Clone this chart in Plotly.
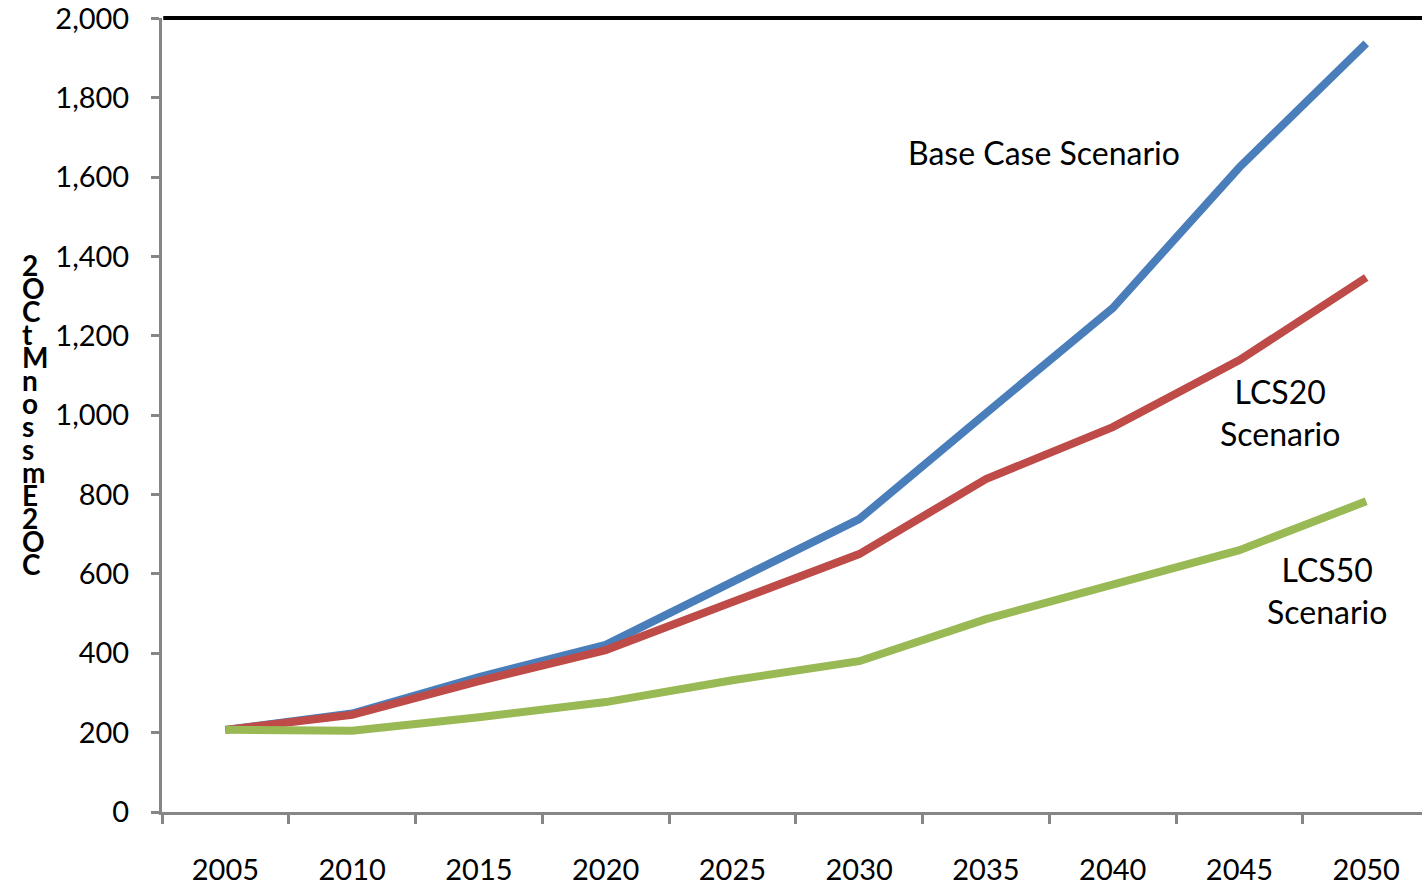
import plotly.graph_objects as go

years = ["2005", "2010", "2015", "2020", "2025", "2030", "2035", "2040", "2045", "2050"]
base_case = [207, 248, 340, 421, 580, 738, 1005, 1270, 1625, 1937]
lcs20 = [207, 245, 330, 408, 529, 650, 839, 970, 1139, 1347]
lcs50 = [207, 205, 239, 277, 332, 380, 486, 574, 660, 783]

y_ticks = [0, 200, 400, 600, 800, 1000, 1200, 1400, 1600, 1800, 2000]
y_title_glyphs = ["2", "O", "C", "t", "M", "n", "o", "s", "s", "m", "E", "2", "O", "C"]

FONT = "Lato, Carlito, Calibri, sans-serif"

fig = go.Figure()
for name, vals, color in [
    ("Base Case Scenario", base_case, "#4A7EBB"),
    ("LCS20 Scenario", lcs20, "#BE4B48"),
    ("LCS50 Scenario", lcs50, "#98B954"),
]:
    fig.add_trace(go.Scatter(x=years, y=vals, mode="lines", name=name,
                             line=dict(color=color, width=8)))

fig.update_layout(
    width=1422, height=888,
    margin=dict(l=162, r=0, t=18, b=76),
    paper_bgcolor="white", plot_bgcolor="white",
    showlegend=False,
    font=dict(family=FONT, size=29, color="black"),
    xaxis=dict(
        type="category", range=[-0.5, 9.44], tickson="boundaries",
        showline=True, linecolor="#868686", linewidth=3,
        ticks="outside", ticklen=9, tickwidth=3, tickcolor="#868686",
        showgrid=False, zeroline=False, ticklabelstandoff=30,
    ),
    yaxis=dict(
        range=[0, 2001], tickvals=y_ticks, tickformat=",",
        showline=True, linecolor="#868686", linewidth=3,
        ticks="outside", ticklen=8, tickwidth=3, tickcolor="#868686",
        showgrid=False, zeroline=False, ticklabelstandoff=16,
        ticklabeloverflow="allow",
    ),
)

# heavy black border along the top of the plot area
fig.add_shape(type="line", xref="paper", yref="paper", x0=0.001, x1=1, y0=1, y1=1,
              line=dict(color="black", width=4))

# scenario labels
for text, x, y in [
    ("Base Case Scenario", 6.46, 1662),
    ("LCS20<br>Scenario", 8.32, 1008),
    ("LCS50<br>Scenario", 8.69, 559),
]:
    fig.add_annotation(x=x, y=y, text=text, showarrow=False,
                       font=dict(family=FONT, size=32, color="black"))

# stacked vertical axis title
for i, ch in enumerate(y_title_glyphs):
    fig.add_annotation(xref="paper", yref="paper", x=-0.1125, y=1, yanchor="middle",
                       yshift=-(265 - 18) - 23 * i, text=ch, showarrow=False,
                       font=dict(family=FONT, size=28, color="black", weight="bold"))

fig.write_html("out.html")
